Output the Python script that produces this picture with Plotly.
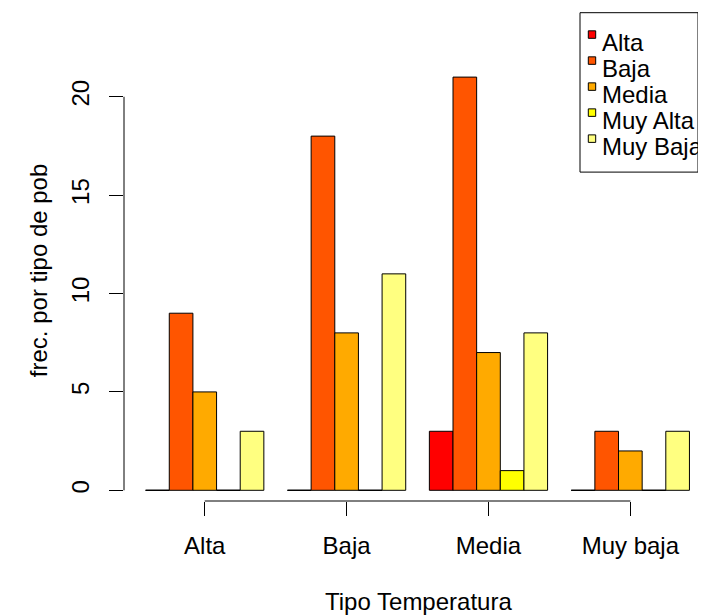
import plotly.graph_objects as go

groups = ["Alta", "Baja", "Media", "Muy baja"]
series = ["Alta", "Baja", "Media", "Muy Alta", "Muy Baja"]
colors = ["#FF0000", "#FF5500", "#FFAA00", "#FFFF00", "#FFFF80"]
values = {
    "Alta":     [0, 0, 3, 0],
    "Baja":     [9, 18, 21, 3],
    "Media":    [5, 8, 7, 2],
    "Muy Alta": [0, 0, 1, 0],
    "Muy Baja": [3, 11, 8, 3],
}
y_ticks = [0, 5, 10, 15, 20]
x_title = "Tipo Temperatura"
y_title = "frec. por tipo de pob"

FONT = "Liberation Sans, Arial, Helvetica, sans-serif"
FS = 24
nser = len(series)
step = nser + 1  # R barplot beside=TRUE, space=c(0,1)

# page offset (body margin) and figure geometry
OFF = 8
W, H = 698, 608
ML, MR, MT, MB = 116, 0, 2, 115.3
PW = W - ML - MR
PH = H - MT - MB


def px(x):  # page pixel -> paper x
    return (x - OFF - ML) / PW


def py(y):  # page pixel -> paper y
    return (H - MB - (y - OFF)) / PH


fig = go.Figure()
zx, zy = [], []
for i, s in enumerate(series):
    xs = [g * step + 1 + i + 0.5 for g in range(len(groups))]
    fig.add_trace(go.Bar(
        x=xs, y=values[s], width=1, name=s,
        marker=dict(color=colors[i], line=dict(color="black", width=1)),
        showlegend=False,
    ))
    for g, v in enumerate(values[s]):
        if v == 0:
            zx += [xs[g] - 0.5, xs[g] + 0.5, None]
            zy += [0, 0, None]

fig.add_trace(go.Scatter(x=zx, y=zy, mode="lines",
                         line=dict(color="black", width=1),
                         showlegend=False, hoverinfo="skip"))

centers = [g * step + 1 + nser / 2 for g in range(len(groups))]

shapes = [
    dict(type="line", xref="x", yref="paper", x0=centers[0], x1=centers[-1],
         y0=0, y1=0, line=dict(color="black", width=1)),
    dict(type="line", xref="paper", yref="y", x0=0, x1=0,
         y0=y_ticks[0], y1=y_ticks[-1], line=dict(color="black", width=1)),
    dict(type="rect", xref="paper", yref="paper", x0=px(580), x1=px(698),
         y0=py(172), y1=py(12.7), line=dict(color="black", width=1),
         fillcolor="rgba(0,0,0,0)"),
]
annotations = []
for i, s in enumerate(series):
    yc = 41.8 + i * 26
    shapes.append(dict(type="rect", xref="paper", yref="paper",
                       x0=px(588.3), x1=px(595.7), y0=py(yc - 3.5), y1=py(yc - 11),
                       line=dict(color="black", width=1), fillcolor=colors[i]))
    annotations.append(dict(text=s, xref="paper", yref="paper", x=px(601), y=py(yc + 1),
                            xanchor="left", yanchor="middle", showarrow=False,
                            borderpad=0, font=dict(family=FONT, size=FS)))

annotations.append(dict(text=x_title, xref="paper", yref="paper",
                        x=px(418), y=py(601), xanchor="center", yanchor="middle",
                        showarrow=False, font=dict(family=FONT, size=FS)))
annotations.append(dict(text=y_title, xref="paper", yref="paper",
                        x=px(38), y=py(271), xanchor="center", yanchor="middle",
                        textangle=-90, showarrow=False, font=dict(family=FONT, size=FS)))

fig.update_layout(
    width=W, height=H,
    margin=dict(l=ML, r=MR, t=MT, b=MB, autoexpand=False),
    plot_bgcolor="rgba(0,0,0,0)", paper_bgcolor="white",
    barmode="overlay",
    font=dict(family=FONT, size=FS, color="black"),
    xaxis=dict(range=[0.085, 24.70], showgrid=False, zeroline=False, showline=False,
               tickmode="array", tickvals=centers, ticktext=groups,
               ticks="outside", ticklen=14, tickwidth=1, tickcolor="black",
               ticklabelstandoff=9),
    yaxis=dict(range=[-0.544, 24.41], showgrid=False, zeroline=False, showline=False,
               tickmode="array", tickvals=y_ticks, ticktext=[str(t) for t in y_ticks],
               ticks="outside", ticklen=14, tickwidth=1, tickcolor="black",
               tickangle=-90, ticklabelstandoff=10),
    showlegend=False,
    shapes=shapes,
    annotations=annotations,
)

fig.write_html("out.html")
